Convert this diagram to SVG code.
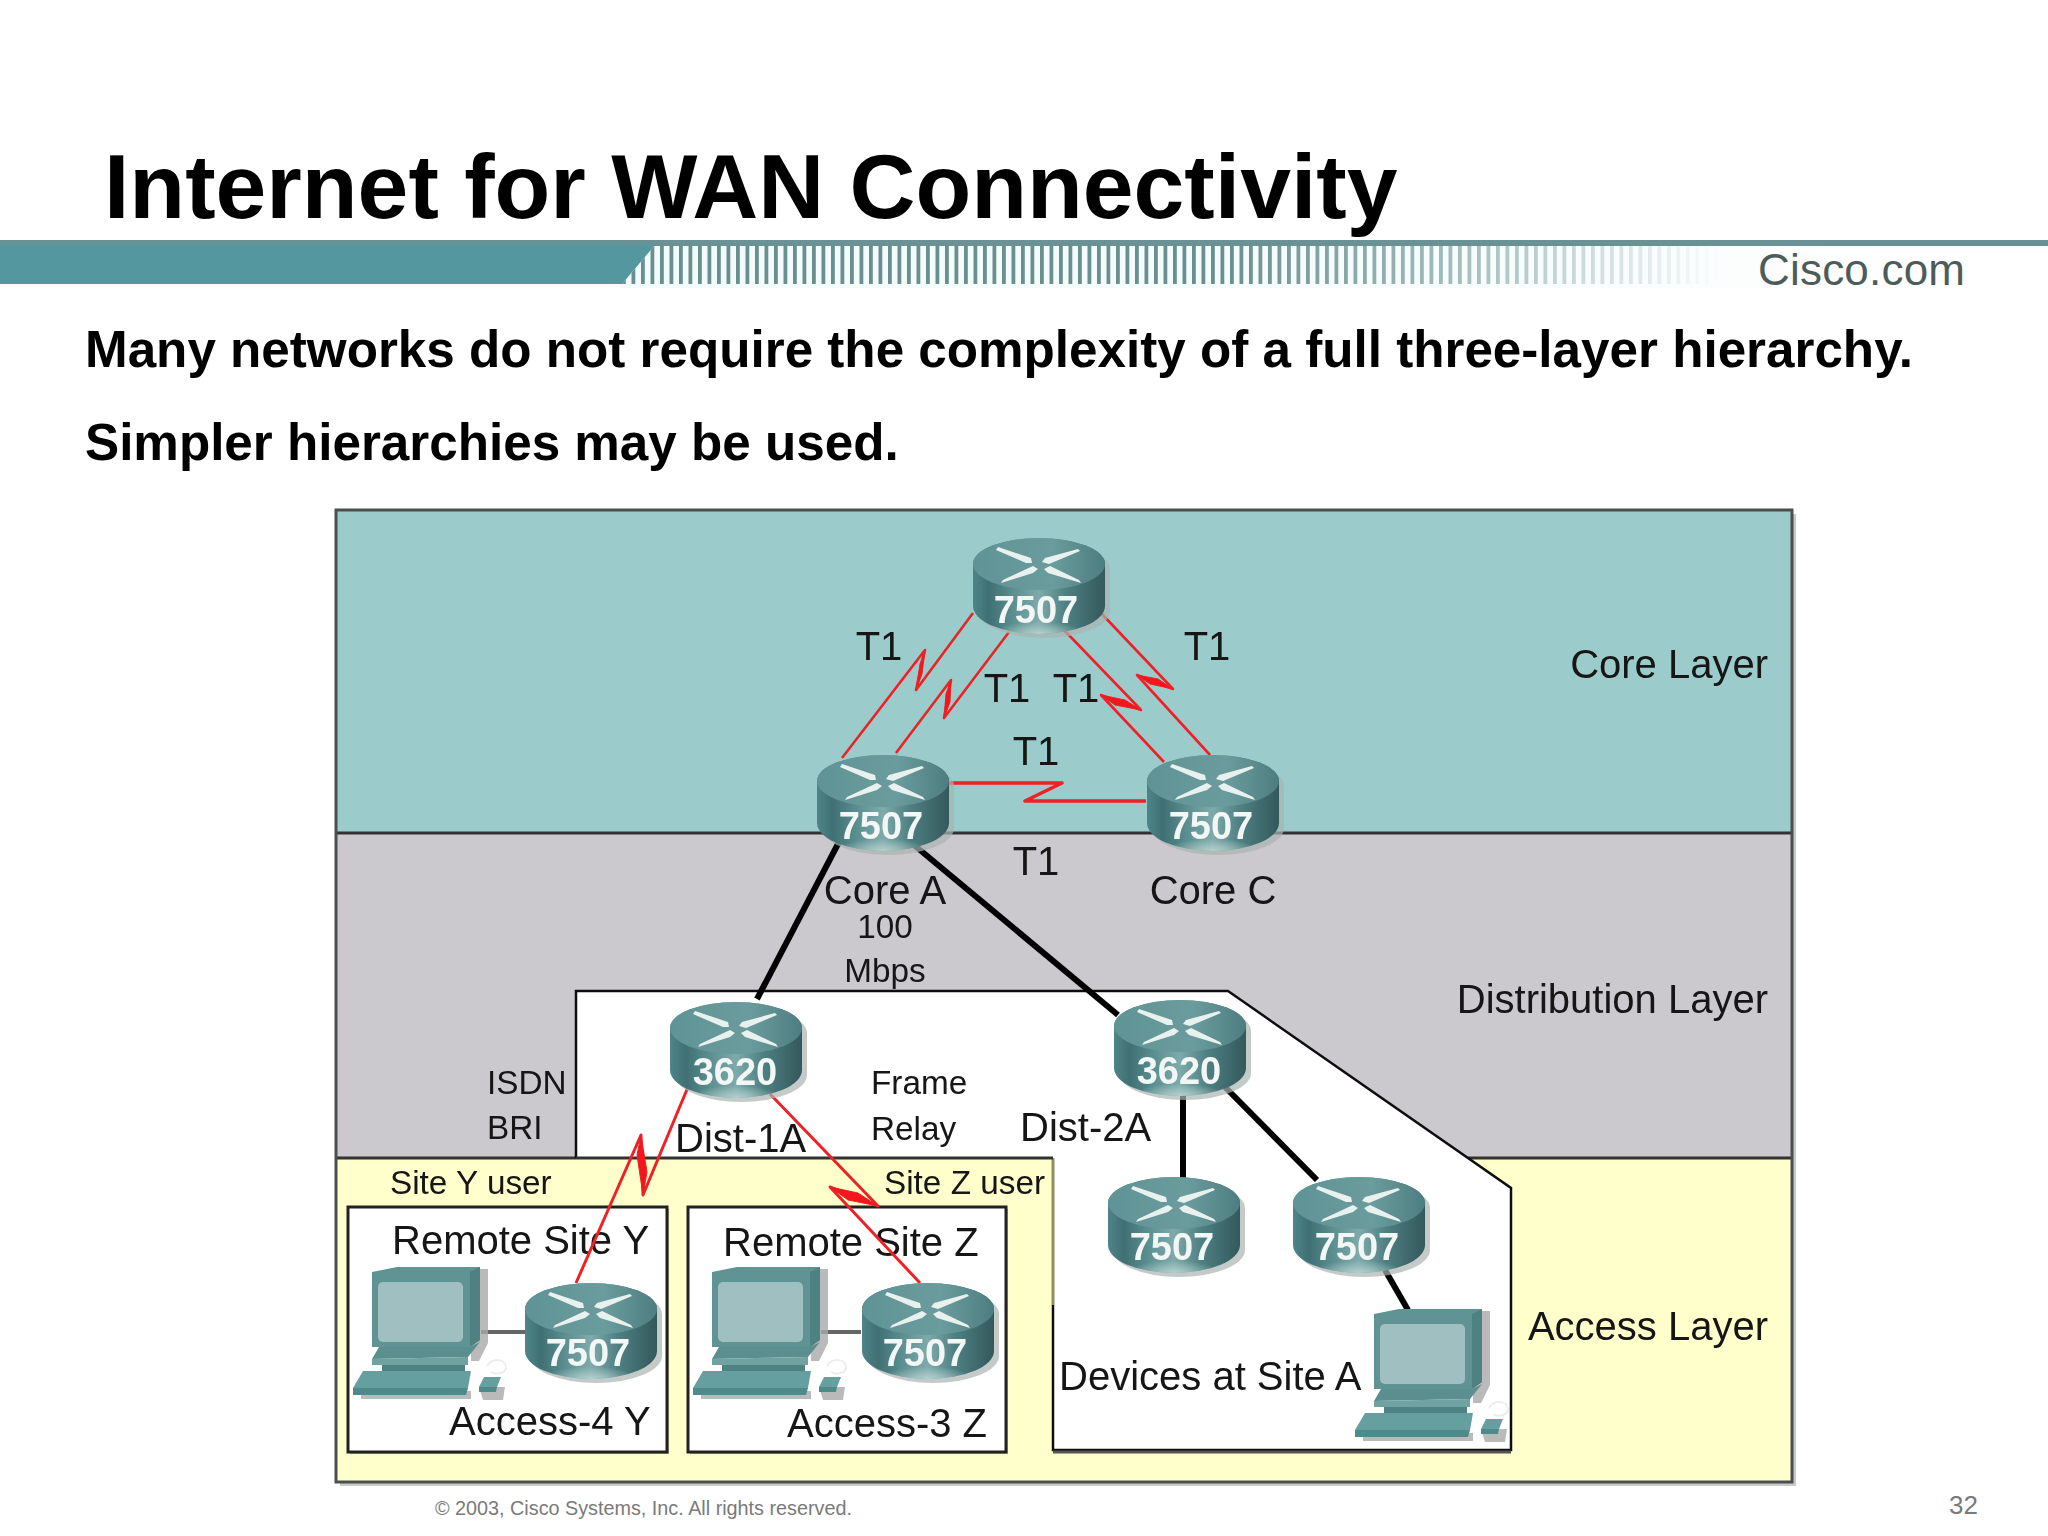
<svg xmlns="http://www.w3.org/2000/svg" width="2048" height="1536" viewBox="0 0 2048 1536">
<style>
text{font-family:"Liberation Sans",Arial,sans-serif;fill:#141414}
.l39{font-size:40px}
.l33{font-size:33.3px}
.mid{text-anchor:middle}
.end{text-anchor:end}
.rt{font-size:38px;font-weight:bold;fill:#f2f6f5;text-anchor:middle}
.red{fill:none;stroke:#ee2226;stroke-width:2.6;stroke-linejoin:round}
.zig{fill:#f4141a;stroke:#ee2226;stroke-width:1}
.blk{fill:none;stroke:#060606;stroke-width:6}
.gry{fill:none;stroke:#666;stroke-width:4}
</style>
<defs>
<linearGradient id="body" x1="0" x2="1" y1="0" y2="0">
<stop offset="0" stop-color="#4f8588"/><stop offset=".12" stop-color="#3f7073"/><stop offset=".3" stop-color="#5b8e90"/><stop offset=".5" stop-color="#7eaaaa"/><stop offset=".7" stop-color="#4f8083"/><stop offset="1" stop-color="#33595c"/>
</linearGradient>
<linearGradient id="top" x1="0" x2="1" y1="0" y2="0">
<stop offset="0" stop-color="#5f9395"/><stop offset=".6" stop-color="#6b9c9d"/><stop offset="1" stop-color="#4d7d80"/>
</linearGradient>
<radialGradient id="hl" cx=".5" cy="1" r=".35">
<stop offset="0" stop-color="#b6d2d0" stop-opacity=".95"/><stop offset="1" stop-color="#b6d2d0" stop-opacity="0"/>
</radialGradient>
<linearGradient id="fade" x1="622" x2="1720" y1="0" y2="0" gradientUnits="userSpaceOnUse">
<stop offset="0" stop-color="#fff"/><stop offset=".55" stop-color="#fff"/><stop offset=".78" stop-color="#8a8a8a"/><stop offset="1" stop-color="#000"/>
</linearGradient>
<linearGradient id="pale" x1="620" x2="1900" y1="0" y2="0" gradientUnits="userSpaceOnUse">
<stop offset="0" stop-color="#f2fbfb"/><stop offset=".7" stop-color="#f7fcfc"/><stop offset="1" stop-color="#ffffff"/>
</linearGradient>
<pattern id="stripes" x="622" y="0" width="9.5" height="40" patternUnits="userSpaceOnUse">
<rect width="3.8" height="40" fill="#6a8f90"/>
</pattern>
<mask id="fadeMask" maskUnits="userSpaceOnUse" x="600" y="240" width="1200" height="60">
<rect x="600" y="240" width="1200" height="60" fill="url(#fade)"/>
</mask>
<filter id="soft" filterUnits="userSpaceOnUse" x="320" y="500" width="1500" height="1036">
<feGaussianBlur stdDeviation="0.7"/>
</filter>
<g id="router">
<path d="M-61,31 A66,26 0 0 1 71,31 L71,73 A66,27 0 0 1 -61,73 Z" fill="#aab3b1" opacity=".7"/>
<path d="M-66,26 A66,26 0 0 1 66,26 L66,68 A66,28 0 0 1 -66,68 Z" fill="url(#body)"/>
<path d="M-66,68 A66,28 0 0 0 66,68 L66,60 L-66,60 Z" fill="url(#hl)"/>
<ellipse cx="0" cy="26" rx="66" ry="26" fill="url(#top)"/>
<path d="M-41,9 L-8,20 L-7,25 L-13,25 L-43,12 Z M39,11 L6,20 L3,24 L10,26 L41,13 Z M-38,45 L-36,42 L-6,28 L-1,31 L-6,35 Z M42,45 L40,42 L11,28 L5,31 L9,35 Z" fill="#e9f1ef"/>
</g>
<g id="pc">
<path d="M109,0 H117 V74 L108,92 H100 V74 Z M-10,122 H100 V130 H-10 Z M108,118 H134 L132,131 H112 Z" fill="#a9a9a9" opacity=".8"/>
<path d="M116,97 C122,88 134,90 135,98 C135,105 124,106 120,103" fill="none" stroke="#eceeee" stroke-width="2"/>
<path d="M1,3 L26,-2 H109 V71 L99,78 H1 Z" fill="#5f9394"/>
<path d="M99,3 L109,-2 V71 L99,78 Z" fill="#4d8182"/>
<rect x="7" y="13" width="85" height="60" rx="5" fill="#a0bfc1"/>
<path d="M8,78 H99 L109,73 L97,88 L1,90 Z" fill="#5a8e8f"/>
<path d="M1,90 L97,88 V96 H1 Z" fill="#70a2a2"/>
<path d="M11,96 H94 V102 H11 Z" fill="#4f8283"/>
<path d="M-8,102 H100 L97,119 H-18 Z" fill="#669f9f"/>
<path d="M-18,119 H97 L95,126 H-18 Z" fill="#4f8a8a"/>
<path d="M113,108 H130 L126,118 H108 Z" fill="#669f9f"/>
<path d="M108,118 H126 L125,123 H108 Z" fill="#4f8a8a"/>
</g>
</defs>

<rect width="2048" height="1536" fill="#fff"/>

<g id="header">
<text x="104" y="218" font-size="91.3" font-weight="bold" style="fill:#000">Internet for WAN Connectivity</text>
<rect x="620" y="246" width="1280" height="42" fill="url(#pale)"/>
<rect x="0" y="240" width="2048" height="6" fill="#6a9294"/>
<path d="M0,245 H655 L622,284 H0 Z" fill="#54979e"/>
<path d="M655,245 H1720 V284 H622 Z" fill="url(#stripes)" mask="url(#fadeMask)"/>
<text x="1758" y="285" font-size="44" textLength="207" lengthAdjust="spacing" style="fill:#4c5c5a">Cisco.com</text>
<text x="85" y="367" font-size="51.2" font-weight="bold" style="fill:#000">Many networks do not require the complexity of a full three-layer hierarchy.</text>
<text x="85" y="460" font-size="51.2" font-weight="bold" style="fill:#000">Simpler hierarchies may be used.</text>
</g>

<g filter="url(#soft)">
<g id="panel">
<rect x="340" y="514" width="1456" height="972" fill="#c9c9c9"/>
<rect x="336" y="510" width="1456" height="323" fill="#9bcccb"/>
<rect x="336" y="833" width="1456" height="325" fill="#cbc9ce"/>
<rect x="336" y="1158" width="1456" height="324" fill="#ffffcc"/>
<path d="M336,833 H1792 M336,1158 H576 M1468,1158 H1792" stroke="#333" stroke-width="3" fill="none"/>
<rect x="336" y="510" width="1456" height="972" fill="none" stroke="#4a4f50" stroke-width="3"/>
<path d="M576,1158 V991 H1228 L1511,1188 V1450 H1053 V1158 Z" fill="#fff"/>
<path d="M576,1158 V991 H1228 L1511,1188 V1450 H1053 V1305" fill="none" stroke="#111" stroke-width="2.5"/>
<path d="M1053,1158 V1305" stroke="#8f8f62" stroke-width="3" fill="none"/>
<path d="M576,1158 H1053" stroke="#333" stroke-width="3" fill="none"/>
<path d="M1053,1452 H1511" stroke="#555" stroke-width="3" fill="none"/>
</g>
<g id="site-y">
<rect x="350" y="1209" width="319" height="245" fill="#b4b48c"/>
<rect x="348" y="1207" width="319" height="245" fill="#fff" stroke="#222" stroke-width="3"/>
</g>
<g id="site-z">
<rect x="690" y="1209" width="318" height="245" fill="#b4b48c"/>
<rect x="688" y="1207" width="318" height="245" fill="#fff" stroke="#222" stroke-width="3"/>
</g>

<g id="labels">
<text class="l39 end" x="1768" y="678">Core Layer</text>
<text class="l39 end" x="1768" y="1013">Distribution Layer</text>
<text class="l39 end" x="1768" y="1340">Access Layer</text>
<text class="l39 mid" x="879" y="660">T1</text>
<text class="l39 mid" x="1007" y="702">T1</text>
<text class="l39 mid" x="1076" y="702">T1</text>
<text class="l39 mid" x="1207" y="660">T1</text>
<text class="l39 mid" x="1036" y="765">T1</text>
<text class="l39 mid" x="1036" y="875">T1</text>
<text class="l39 mid" x="885" y="904">Core A</text>
<text class="l39 mid" x="1213" y="904">Core C</text>
<text class="l33 mid" x="885" y="938">100</text>
<text class="l33 mid" x="885" y="982">Mbps</text>
<text class="l33" x="487" y="1094">ISDN</text>
<text class="l33" x="487" y="1139">BRI</text>
<text class="l33" x="871" y="1094">Frame</text>
<text class="l33" x="871" y="1140">Relay</text>
<text class="l39" x="675" y="1152">Dist-1A</text>
<text class="l39" x="1020" y="1141">Dist-2A</text>
<text class="l33" x="390" y="1194">Site Y user</text>
<text class="l33" x="884" y="1194">Site Z user</text>
<text class="l39" x="392" y="1254">Remote Site Y</text>
<text class="l39" x="723" y="1256">Remote Site Z</text>
<text class="l39" x="449" y="1435">Access-4 Y</text>
<text class="l39" x="787" y="1437">Access-3 Z</text>
<text class="l39" x="1059" y="1390">Devices at Site A</text>
</g>

<g id="connectors">
<polyline class="red" points="973,613 916,690 925,650 842,758"/>
<polygon class="zig" points="925,650 920,664 916,690 922,674"/>
<polyline class="red" points="1009,632 944,718 951,680 896,753"/>
<polygon class="zig" points="951,680 946,694 944,718 950,702"/>
<polyline class="red" points="1100,612 1173,689 1137,675 1210,755"/>
<polygon class="zig" points="1137,675 1150,684 1173,689 1158,679"/>
<polyline class="red" points="1064,630 1141,710 1101,695 1164,762"/>
<polygon class="zig" points="1101,695 1115,705 1141,710 1125,700"/>
<polyline class="red" style="stroke-width:3.6" points="948,783 1062,783 1025,801 1146,801"/>
<polyline class="red" style="stroke-width:3" points="688,1087 643,1195 641,1135 576,1283"/>
<polygon class="zig" points="641,1135 637,1155 643,1195 647,1172"/>
<polyline class="red" style="stroke-width:3" points="770,1094 878,1206 830,1187 920,1283"/>
<polygon class="zig" points="830,1187 848,1200 878,1206 858,1193"/>
<line class="blk" x1="839" y1="842" x2="757" y2="999"/>
<line class="blk" x1="914" y1="845" x2="1118" y2="1015"/>
<line class="blk" x1="1183" y1="1095" x2="1183" y2="1178"/>
<line class="blk" x1="1225" y1="1087" x2="1317" y2="1180"/>
<line class="blk" x1="1385" y1="1270" x2="1408" y2="1310"/>
<line class="gry" x1="481" y1="1332" x2="526" y2="1332"/>
<line class="gry" x1="821" y1="1332" x2="861" y2="1332"/>
</g>

<g id="router-top"><use href="#router" x="1039" y="538"/><text class="rt" x="1036" y="623">7507</text></g>
<g id="core-a"><use href="#router" x="883" y="755"/><text class="rt" x="881" y="839">7507</text></g>
<g id="core-c"><use href="#router" x="1213" y="755"/><text class="rt" x="1211" y="839">7507</text></g>
<g id="dist-1a"><use href="#router" x="736" y="1002"/><text class="rt" x="735" y="1085">3620</text></g>
<g id="dist-2a"><use href="#router" x="1180" y="1000"/><text class="rt" x="1179" y="1084">3620</text></g>
<g id="site-a-1"><use href="#router" x="1174" y="1177"/><text class="rt" x="1172" y="1260">7507</text></g>
<g id="site-a-2"><use href="#router" x="1359" y="1177"/><text class="rt" x="1357" y="1260">7507</text></g>
<g id="access-4y"><use href="#router" x="591" y="1283"/><text class="rt" x="588" y="1366">7507</text></g>
<g id="access-3z"><use href="#router" x="928" y="1283"/><text class="rt" x="925" y="1366">7507</text></g>
<g id="pc-y"><use href="#pc" x="371" y="1269"/></g>
<g id="pc-z"><use href="#pc" x="711" y="1269"/></g>
<g id="pc-a"><use href="#pc" x="1373" y="1311"/></g>
</g>

<g id="footer">
<text x="435" y="1515" font-size="19.8" style="fill:#7a7a7a">© 2003, Cisco Systems, Inc. All rights reserved.</text>
<text x="1949" y="1514" font-size="26" style="fill:#7a7a7a">32</text>
</g>
</svg>
